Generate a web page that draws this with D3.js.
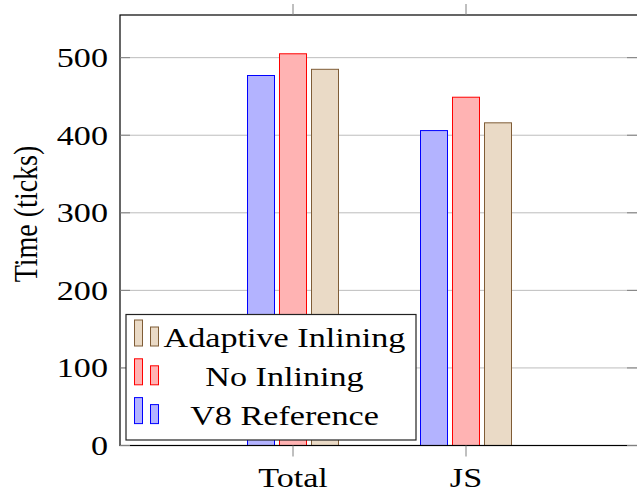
<!DOCTYPE html>
<html>
<head>
<meta charset="utf-8">
<script src="https://cdn.jsdelivr.net/npm/d3@7"></script>
<style>
  html, body { margin: 0; padding: 0; background: #fff; }
  svg { display: block; }
  text { font-family: "Liberation Serif", "Times New Roman", serif; fill: #000; }
</style>
</head>
<body>
<svg id="chart" width="637" height="492"></svg>
<script>
// Categories and measured run times (ticks)
const categories = ["Total", "JS"];
const seriesNames = ["V8 Reference", "No Inlining", "Adaptive Inlining"];
const v8Reference = [477, 406];
const noInlining = [505, 449];
const adaptiveInlining = [485, 416];
const yTicks = [0, 100, 200, 300, 400, 500];

const seriesValues = [v8Reference, noInlining, adaptiveInlining];
const fills = ["#b3b3ff", "#ffb3b3", "#eadac6"];
const strokes = ["#0000ff", "#ff0000", "#7f5c36"];

const W = 637, H = 492;
const plotL = 120, plotR = 639, plotT = 15, plotB = 445.5;
const fontSize = 28, stretch = 1.22;

const svg = d3.select("#chart");

const x = d3.scalePoint().domain(categories).range([plotL, plotR]).padding(1);
const y = d3.scaleLinear().domain([0, 555]).range([plotB, plotT]);

const barW = 27, barStep = 32;

// horizontal grid lines
svg.append("g")
  .selectAll("line")
  .data(yTicks)
  .join("line")
  .attr("x1", plotL).attr("x2", W)
  .attr("y1", d => y(d)).attr("y2", d => y(d))
  .attr("stroke", "#bdbdbd").attr("stroke-width", 1);

// bars
const rows = seriesValues.flatMap((vals, s) =>
  vals.map((v, c) => ({ s, c: categories[c], v })));

svg.append("g")
  .selectAll("rect")
  .data(rows)
  .join("rect")
  .attr("x", d => x(d.c) + (d.s - 1) * barStep - barW / 2)
  .attr("y", d => y(d.v))
  .attr("width", barW)
  .attr("height", d => y(0) - y(d.v))
  .attr("fill", d => fills[d.s])
  .attr("stroke", d => strokes[d.s])
  .attr("stroke-width", 1);

// axis frame
svg.append("rect")
  .attr("x", plotL).attr("y", plotT)
  .attr("width", W + 2 - plotL).attr("height", plotB - plotT)
  .attr("fill", "none").attr("stroke", "#000").attr("stroke-width", 1.2);

// y ticks (inward, both sides)
const tickG = svg.append("g").attr("stroke", "#808080").attr("stroke-width", 1);
yTicks.forEach(t => {
  tickG.append("line").attr("x1", plotL).attr("x2", plotL + 10).attr("y1", y(t)).attr("y2", y(t));
  tickG.append("line").attr("x1", W - 10).attr("x2", W).attr("y1", y(t)).attr("y2", y(t));
});
// x ticks (outward, top and bottom)
categories.forEach(c => {
  tickG.append("line").attr("x1", x(c)).attr("x2", x(c)).attr("y1", plotT).attr("y2", plotT - 11);
  tickG.append("line").attr("x1", x(c)).attr("x2", x(c)).attr("y1", plotB).attr("y2", plotB + 11);
});

function label(g, str, px, py, anchor, rotate) {
  return g.append("text")
    .attr("transform", `translate(${px},${py}) scale(${stretch},1)` + (rotate ? ` rotate(${rotate})` : ""))
    .attr("text-anchor", anchor)
    .attr("font-size", fontSize)
    .text(str);
}

const textG = svg.append("g");
// y tick labels
yTicks.forEach(t => label(textG, String(t), 108, y(t) + 9.5, "end"));
// x tick labels
categories.forEach(c => label(textG, c, x(c), 486.5, "middle"));
// y axis title
label(textG, "Time (ticks)", 37, 214, "middle", -90);

// legend
const lg = svg.append("g");
lg.append("rect")
  .attr("x", 126).attr("y", 314.5).attr("width", 290).attr("height", 125.5)
  .attr("fill", "#fff").attr("stroke", "#222").attr("stroke-width", 1.2);

const legendOrder = [2, 1, 0];
legendOrder.forEach((s, i) => {
  const base = 346 + i * 38.8;
  lg.append("rect")
    .attr("x", 134.5).attr("y", base - 26).attr("width", 8).attr("height", 26)
    .attr("fill", fills[s]).attr("stroke", strokes[s]).attr("stroke-width", 1);
  lg.append("rect")
    .attr("x", 150.5).attr("y", base - 19).attr("width", 8).attr("height", 19)
    .attr("fill", fills[s]).attr("stroke", strokes[s]).attr("stroke-width", 1);
  label(lg, seriesNames[s], 284.5, base + 1, "middle");
});
</script>
</body>
</html>
